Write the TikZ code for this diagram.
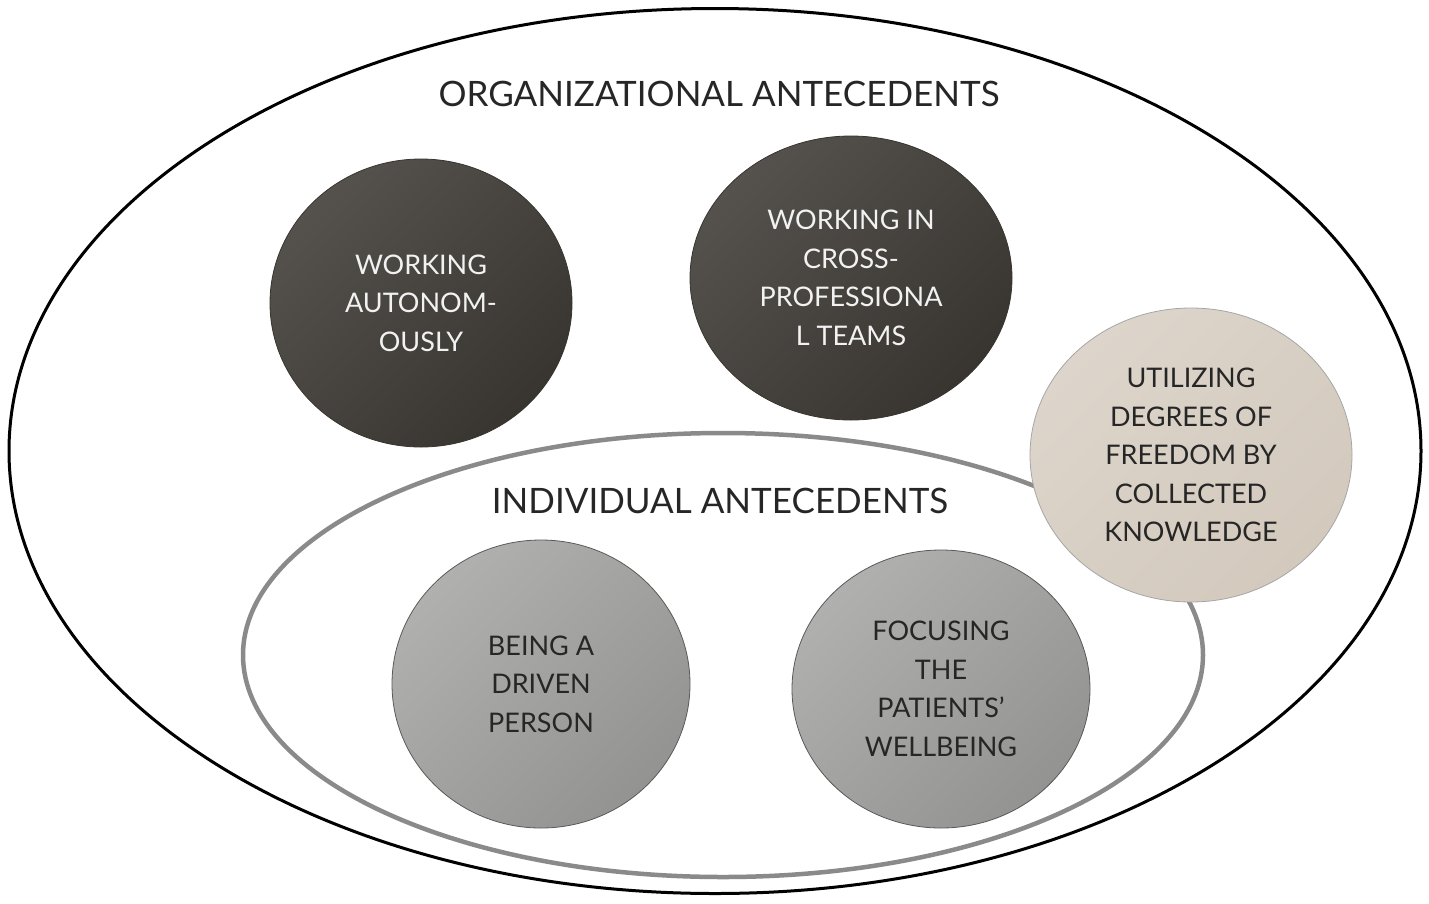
\documentclass[tikz,border=0pt]{standalone}
\usepackage{fontspec}
\setmainfont{Lato}
\usetikzlibrary{shapes.geometric}
\definecolor{darkA}{HTML}{55524E}
\definecolor{darkB}{HTML}{38342F}
\definecolor{grayA}{HTML}{B0B0AF}
\definecolor{grayB}{HTML}{939392}
\definecolor{beigeA}{HTML}{DDD5CB}
\definecolor{beigeB}{HTML}{D3C9BD}
\definecolor{ringgray}{HTML}{8A8A8A}
\tikzset{
  blob/.style={ellipse, inner sep=0pt, align=center, font=\fontsize{27}{38.5}\selectfont},
  darkblob/.style={blob, top color=darkA, bottom color=darkB, shading angle=45, draw=darkB, line width=0.8pt, text=white!95!black},
  grayblob/.style={blob, top color=grayA, bottom color=grayB, shading angle=45, draw=black!65, line width=0.8pt, text=black!85},
  beigeblob/.style={blob, top color=beigeA, bottom color=beigeB, shading angle=45, draw=black!35, line width=0.8pt, text=black!85},
  heading/.style={font=\fontsize{35}{40}\selectfont, text=black!85, inner sep=0pt}
}
\begin{document}
\begin{tikzpicture}[x=1pt,y=-1pt]
\useasboundingbox (0,0) rectangle (1429,903);
\node[ellipse, draw=black, line width=3pt, minimum width=1412pt, minimum height=885pt, inner sep=0pt] (outer) at (715,451) {};
\node[ellipse, draw=ringgray, line width=4.5pt, minimum width=960pt, minimum height=444pt, inner sep=0pt] (inner) at (723,655) {};
\node[heading] (orgtitle) at (719,94) {ORGANIZATIONAL ANTECEDENTS};
\node[heading] (indtitle) at (720,501) {INDIVIDUAL ANTECEDENTS};
\node[darkblob, minimum width=302pt, minimum height=288pt] (auto) at (421,303) {WORKING\\AUTONOM-\\OUSLY};
\node[darkblob, minimum width=322pt, minimum height=284pt] (cross) at (851,278) {WORKING IN\\CROSS-\\PROFESSIONA\\L TEAMS};
\node[beigeblob, minimum width=322pt, minimum height=294pt] (util) at (1191,455) {UTILIZING\\DEGREES OF\\FREEDOM BY\\COLLECTED\\KNOWLEDGE};
\node[grayblob, minimum width=298pt, minimum height=288pt] (driven) at (541,684) {BEING A\\DRIVEN\\PERSON};
\node[grayblob, minimum width=298pt, minimum height=278pt] (focus) at (941,689) {FOCUSING\\THE\\PATIENTS’\\WELLBEING};
\end{tikzpicture}
\end{document}
